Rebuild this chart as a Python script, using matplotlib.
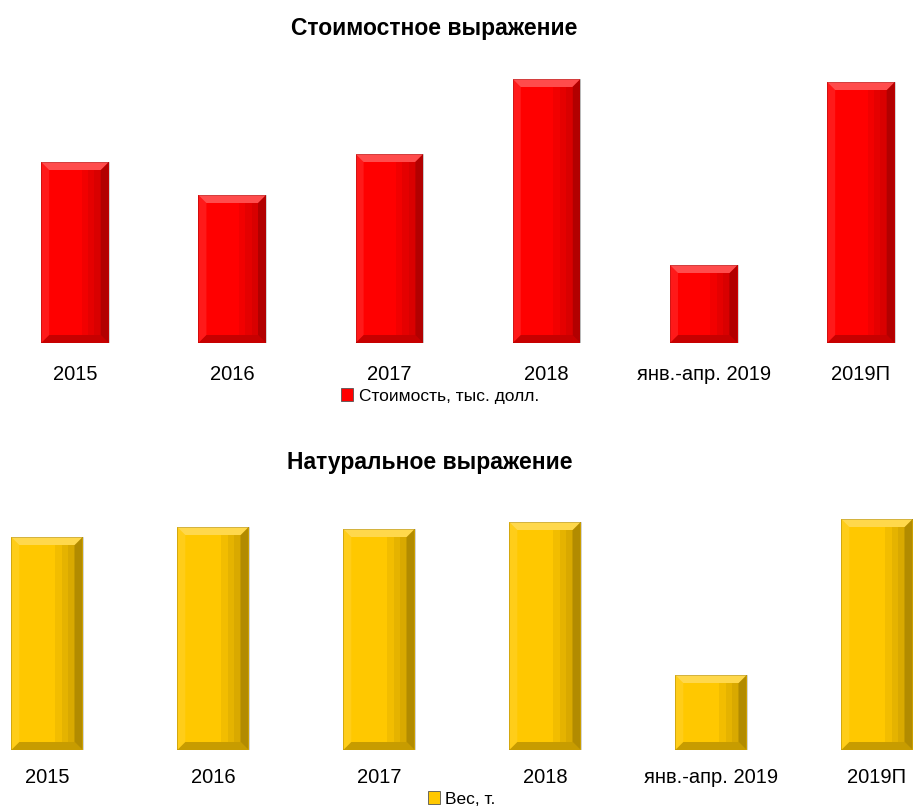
import matplotlib.pyplot as plt
from matplotlib.patches import Polygon, Patch

plt.rcParams['font.family'] = ['Liberation Sans', 'DejaVu Sans']

categories = ['2015', '2016', '2017', '2018', 'янв.-апр. 2019', '2019П']
value_usd = [1810, 1480, 1890, 2640, 780, 2610]   # тыс. долл. (оценка по рисунку)
weight_t = [213, 223, 221, 228, 75, 231]           # т (оценка по рисунку)

W, H = 913, 808
fig = plt.figure(figsize=(W / 100, H / 100), dpi=100)


def bevel(ax, bars, ppx, ppy, d=8):
    # ppx, ppy: data units per pixel
    dx, dy = d * ppx, d * ppy
    z = 3
    for b in bars:
        x0, y0 = b.get_x(), b.get_y()
        x1, y1 = x0 + b.get_width(), y0 + b.get_height()
        top = [(x0, y1), (x1, y1), (x1 - dx, y1 - dy), (x0 + dx, y1 - dy)]
        bot = [(x0, y0), (x1, y0), (x1 - dx, y0 + dy), (x0 + dx, y0 + dy)]
        left = [(x0, y0), (x0, y1), (x0 + dx, y1 - dy), (x0 + dx, y0 + dy)]
        right = [(x1, y0), (x1, y1), (x1 - dx, y1 - dy), (x1 - dx, y0 + dy)]
        ax.add_patch(Polygon(top, closed=True, fc='white', alpha=0.3, lw=0, zorder=z))
        ax.add_patch(Polygon(left, closed=True, fc='white', alpha=0.1, lw=0, zorder=z))
        ax.add_patch(Polygon(bot, closed=True, fc='black', alpha=0.22, lw=0, zorder=z))
        ax.add_patch(Polygon(right, closed=True, fc='black', alpha=0.3, lw=0, zorder=z))
        # soft shading towards right edge
        for k in range(1, 4):
            xs = x1 - dx - k * dx * 0.8
            ax.add_patch(Polygon([(xs, y0 + dy), (x1 - dx, y0 + dy),
                                  (x1 - dx, y1 - dy), (xs, y1 - dy)],
                                 closed=True, fc='black', alpha=0.05, lw=0, zorder=z))
        ax.add_patch(Polygon([(x0, y0), (x1, y0), (x1, y1), (x0, y1)],
                             closed=True, fc='none', ec='black', alpha=0.2, lw=0.6,
                             zorder=z))


def panel(values, color, c0, step, ybot, ytop, yscale, pad, title, ty, lab, ly, lx):
    left = -c0 / step
    right = (W - c0) / step
    ax = fig.add_axes([0, 1 - ybot / H, 1, (ybot - ytop) / H])
    x = range(len(categories))
    bars = ax.bar(x, values, width=0.43, color=color, zorder=2)
    ax.set_xlim(left, right)
    ax.set_ylim(0, (ybot - ytop) * yscale)
    bevel(ax, bars, 1 / step, yscale)
    ax.set_xticks(list(x))
    ax.set_xticklabels(categories, fontsize=14.5)
    ax.tick_params(axis='x', length=0, pad=pad)
    ax.set_yticks([])
    for s in ax.spines.values():
        s.set_visible(False)
    ax.patch.set_alpha(0)
    fig.text(lx[0], 1 - ty / H, title, ha='center', va='center',
             fontsize=16.5, fontweight='bold')
    h = Patch(facecolor=color, edgecolor='#555555', linewidth=0.6)
    fig.legend([h], [lab], loc='center', bbox_to_anchor=(lx[1], 1 - ly / H),
               frameon=False, fontsize=12.5, handlelength=0.7, handleheight=0.7,
               handletextpad=0.3)
    return ax


panel(value_usd, '#ff0000', 75, 157.2, 343, 60, 10, 16,
      'Стоимостное выражение', 28, 'Стоимость, тыс. долл.', 396, (434 / W, 440 / W))
panel(weight_t, '#ffc800', 47, 166.0, 750, 500, 1, 13,
      'Натуральное выражение', 463, 'Вес, т.', 799, (430 / W, 462 / W))

fig.savefig('out.png', dpi=100)
